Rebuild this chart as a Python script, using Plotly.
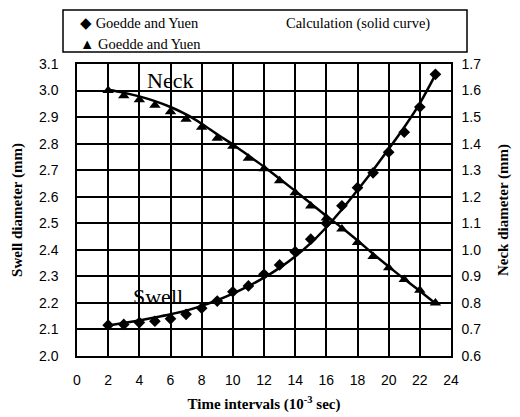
import plotly.graph_objects as go

# Data
time_x = [2, 3, 4, 5, 6, 7, 8, 9, 10, 11, 12, 13, 14, 15, 16, 17, 18, 19, 20, 21, 22, 23]
swell_exp = [2.116, 2.119, 2.126, 2.131, 2.140, 2.157, 2.180, 2.207, 2.242, 2.264, 2.308,
             2.343, 2.393, 2.440, 2.500, 2.566, 2.634, 2.690, 2.768, 2.843, 2.938, 3.061]
swell_calc = [2.115, 2.124, 2.134, 2.145, 2.157, 2.171, 2.189, 2.210, 2.235, 2.263, 2.295,
              2.332, 2.375, 2.425, 2.485, 2.552, 2.625, 2.700, 2.780, 2.862, 2.952, 3.060]
neck_exp = [1.600, 1.580, 1.565, 1.545, 1.520, 1.492, 1.462, 1.420, 1.390, 1.345, 1.305,
            1.260, 1.215, 1.165, 1.120, 1.078, 1.028, 0.975, 0.932, 0.888, 0.848, 0.800]
neck_calc = [1.603, 1.592, 1.578, 1.560, 1.538, 1.510, 1.475, 1.435, 1.397, 1.355, 1.313,
             1.268, 1.222, 1.175, 1.128, 1.083, 1.035, 0.985, 0.937, 0.890, 0.845, 0.798]
x_ticks = [0, 2, 4, 6, 8, 10, 12, 14, 16, 18, 20, 22, 24]
swell_ticks = [2.0, 2.1, 2.2, 2.3, 2.4, 2.5, 2.6, 2.7, 2.8, 2.9, 3.0, 3.1]
neck_ticks = [0.6, 0.7, 0.8, 0.9, 1.0, 1.1, 1.2, 1.3, 1.4, 1.5, 1.6, 1.7]
legend_labels = ["Goedde and Yuen", "Goedde and Yuen", "Calculation (solid curve)"]

serif = "Liberation Serif"
sans = "Liberation Sans"

fig = go.Figure()

fig.add_trace(go.Scatter(x=time_x, y=swell_calc, mode="lines", line=dict(color="black", width=2.5, shape="spline"),
                         yaxis="y", showlegend=False))
fig.add_trace(go.Scatter(x=time_x, y=swell_exp, mode="markers",
                         marker=dict(symbol="diamond", size=9, color="black"), yaxis="y", showlegend=False))
fig.add_trace(go.Scatter(x=time_x, y=neck_calc, mode="lines", line=dict(color="black", width=2.5, shape="spline"),
                         yaxis="y2", showlegend=False))
fig.add_trace(go.Scatter(x=time_x, y=neck_exp, mode="markers",
                         marker=dict(symbol="triangle-up", size=10, color="black"), yaxis="y2", showlegend=False))

fig.update_layout(
    width=520, height=417,
    margin=dict(l=77, r=69, t=64, b=61),
    paper_bgcolor="white", plot_bgcolor="white",
    font=dict(family=sans, size=14, color="black"),
    xaxis=dict(range=[0, 24], tickvals=x_ticks, showgrid=True, gridcolor="black", gridwidth=1.5,
               showline=True, linecolor="black", linewidth=1.5, mirror=True,
               ticks="outside", ticklen=10, tickcolor="white", zeroline=False, automargin=False,
               title=dict(text="<b>Time intervals (10<sup>-3</sup> sec)</b>", font=dict(family=serif, size=15),
                          standoff=12)),
    yaxis=dict(range=[2.0, 3.1], tickvals=swell_ticks, tickformat=".1f", showgrid=True, gridcolor="black",
               gridwidth=1.5, showline=True, linecolor="black", linewidth=1.5,
               ticks="outside", ticklen=14, tickcolor="white", zeroline=False, automargin=False,
               title=dict(text="<b>Swell diameter (mm)</b>", font=dict(family=serif, size=15), standoff=13)),
    yaxis2=dict(range=[0.6, 1.7], tickvals=neck_ticks, tickformat=".1f", overlaying="y", side="right",
                showgrid=False, showline=True, linecolor="black", linewidth=1.5,
                ticks="outside", ticklen=6, tickcolor="white", zeroline=False, automargin=False,
                title=dict(text="<b>Neck diameter (mm)</b>", font=dict(family=serif, size=15), standoff=17)),
)

# Curve labels
fig.add_annotation(x=5.94, y=3.036, xref="x", yref="y", text="Neck", showarrow=False,
                   font=dict(family=serif, size=22))
fig.add_annotation(x=5.19, y=2.223, xref="x", yref="y", text="Swell", showarrow=False,
                   font=dict(family=serif, size=22))

# Legend box
fig.add_shape(type="rect", xref="paper", yref="paper",
              x0=(63 - 77) / 374, x1=(467 - 77) / 374,
              y0=(356 - 52) / 292, y1=(356 - 10) / 292,
              line=dict(color="black", width=1.5), fillcolor="white")
fig.add_annotation(xref="paper", yref="paper", x=(78 - 77) / 374, y=(356 - 23) / 292,
                   xanchor="left", yanchor="middle", showarrow=False,
                   text="◆ " + legend_labels[0], font=dict(family=serif, size=14.5))
fig.add_annotation(xref="paper", yref="paper", x=(78 - 77) / 374, y=(356 - 44) / 292,
                   xanchor="left", yanchor="middle", showarrow=False,
                   text="▲ " + legend_labels[1], font=dict(family=serif, size=14.5))
fig.add_annotation(xref="paper", yref="paper", x=(284 - 77) / 374, y=(356 - 23) / 292,
                   xanchor="left", yanchor="middle", showarrow=False,
                   text=legend_labels[2], font=dict(family=serif, size=14.5))

fig.write_html("out.html")
